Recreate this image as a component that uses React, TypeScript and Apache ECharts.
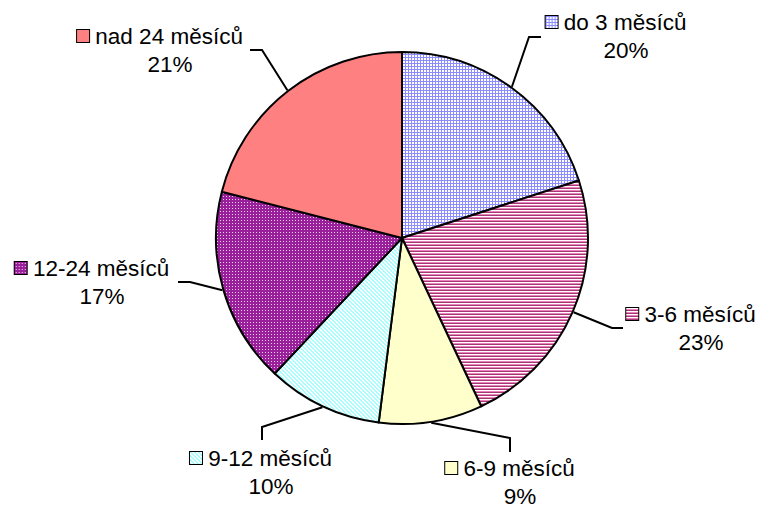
import React, { useEffect, useRef } from "react";
import * as echarts from "echarts";

// ---- data ----
const categories = [
  "do 3 měsíců",
  "3-6 měsíců",
  "6-9 měsíců",
  "9-12 měsíců",
  "12-24 měsíců",
  "nad 24 měsíců",
];
const values = [20, 23, 9, 10, 17, 21];

// ---- layout ----
const CENTER = [402, 238];
const RADIUS = 186;
// label block centre, bend point and end point of the leader line
const labelLayouts = [
  { cx: 616, cy: 36, bend: [529, 37], end: [541, 37] },
  { cx: 691, cy: 328, bend: [612, 328], end: [623, 328] },
  { cx: 510, cy: 482, bend: [510, 438], end: [510, 452] },
  { cx: 261, cy: 472, bend: [262, 427], end: [262, 440] },
  { cx: 92, cy: 282, bend: [190, 282], end: [178, 282] },
  { cx: 160, cy: 50, bend: [262, 50], end: [250, 50] },
];

type Painter = (ctx: CanvasRenderingContext2D) => void;
function tile(w: number, h: number, draw: Painter): HTMLCanvasElement {
  const c = document.createElement("canvas");
  c.width = w;
  c.height = h;
  const ctx = c.getContext("2d")!;
  draw(ctx);
  return c;
}
function px(ctx: CanvasRenderingContext2D, color: string, x: number, y: number, w = 1, h = 1) {
  ctx.fillStyle = color;
  ctx.fillRect(x, y, w, h);
}

function makeTiles(): HTMLCanvasElement[] {
  const grid = tile(3, 3, (ctx) => {
    px(ctx, "#ffffff", 0, 0, 3, 3);
    px(ctx, "#8c8cff", 0, 0, 3, 1);
    px(ctx, "#8c8cff", 0, 0, 1, 3);
  });
  const hstripe = tile(1, 3, (ctx) => {
    px(ctx, "#ffffff", 0, 0);
    px(ctx, "#ee7fbf", 0, 1);
    px(ctx, "#a03a70", 0, 2);
  });
  const yellow = tile(2, 2, (ctx) => px(ctx, "#ffffcc", 0, 0, 2, 2));
  const diag = tile(4, 4, (ctx) => {
    px(ctx, "#ffffff", 0, 0, 4, 4);
    for (let y = 0; y < 4; y++) {
      for (let x = 0; x < 4; x++) {
        const d = (((x - y) % 4) + 4) % 4;
        if (d === 0 || d === 1) px(ctx, "#a6ffff", x, y);
      }
    }
  });
  const purple = tile(3, 3, (ctx) => {
    px(ctx, "#9a1f9a", 0, 0, 3, 3);
    px(ctx, "#f0d0f0", 1, 1);
  });
  const salmon = tile(2, 2, (ctx) => px(ctx, "#ff8080", 0, 0, 2, 2));
  return [grid, hstripe, yellow, diag, purple, salmon];
}

function keyImage(t: HTMLCanvasElement, size: number): string {
  const c = document.createElement("canvas");
  c.width = size;
  c.height = size;
  const ctx = c.getContext("2d")!;
  const p = ctx.createPattern(t, "repeat")!;
  ctx.fillStyle = p;
  ctx.fillRect(0, 0, size, size);
  return c.toDataURL();
}

export default function App() {
  const ref = useRef<HTMLDivElement>(null);
  useEffect(() => {
    if (!ref.current) return;
    const chart = echarts.init(ref.current, undefined, { renderer: "svg" });
    const tiles = makeTiles();
    const total = values.reduce((a, b) => a + b, 0);
    const mids: number[] = [];
    let cum = 0;
    values.forEach((v) => {
      mids.push(((cum + v / 2) / total) * Math.PI * 2);
      cum += v;
    });

    const rich: any = {
      sp: { width: 20, height: 14, lineHeight: 28 },
    };
    tiles.forEach((t, i) => {
      rich["k" + i] = {
        width: 12,
        height: 12,
        borderColor: "#000",
        borderWidth: 2,
        backgroundColor: { image: keyImage(t, 12) },
        verticalAlign: "middle",
        lineHeight: 28,
      };
    });

    const data = categories.map((name, i) => ({
      name,
      value: values[i],
      itemStyle: { color: { image: tiles[i], repeat: "repeat" } as any },
    }));

    chart.setOption({
      animation: false,
      backgroundColor: "#ffffff",
      series: [
        {
          type: "pie",
          center: CENTER,
          radius: RADIUS,
          startAngle: 90,
          clockwise: true,
          avoidLabelOverlap: false,
          silent: true,
          data,
          itemStyle: { borderColor: "#000000", borderWidth: 2 },
          label: {
            show: true,
            position: "outside",
            color: "#000000",
            fontFamily: "Liberation Sans, Arial, sans-serif",
            fontWeight: "normal",
            fontSize: 22.5,
            lineHeight: 28,
            align: "center",
            formatter: (p: any) =>
              `{k${p.dataIndex}|} ${p.name}\n{sp|}${Math.round(p.percent)}%`,
            rich,
          },
          labelLine: {
            show: true,
            length: 10,
            length2: 10,
            smooth: false,
            lineStyle: { color: "#000000", width: 2 },
          },
          labelLayout: (params: any) => {
            const i = params.dataIndex;
            const L = labelLayouts[i];
            const a = mids[i];
            const edge = [
              CENTER[0] + (RADIUS + 1) * Math.sin(a),
              CENTER[1] - (RADIUS + 1) * Math.cos(a),
            ];
            return {
              x: L.cx,
              y: L.cy,
              align: "center",
              verticalAlign: "middle",
              labelLinePoints: [edge, L.bend, L.end],
            };
          },
        },
      ],
    });
    return () => chart.dispose();
  }, []);
  return (
    <div
      ref={ref}
      style={{ position: "absolute", left: 0, top: 0, width: 765, height: 508 }}
    />
  );
}
